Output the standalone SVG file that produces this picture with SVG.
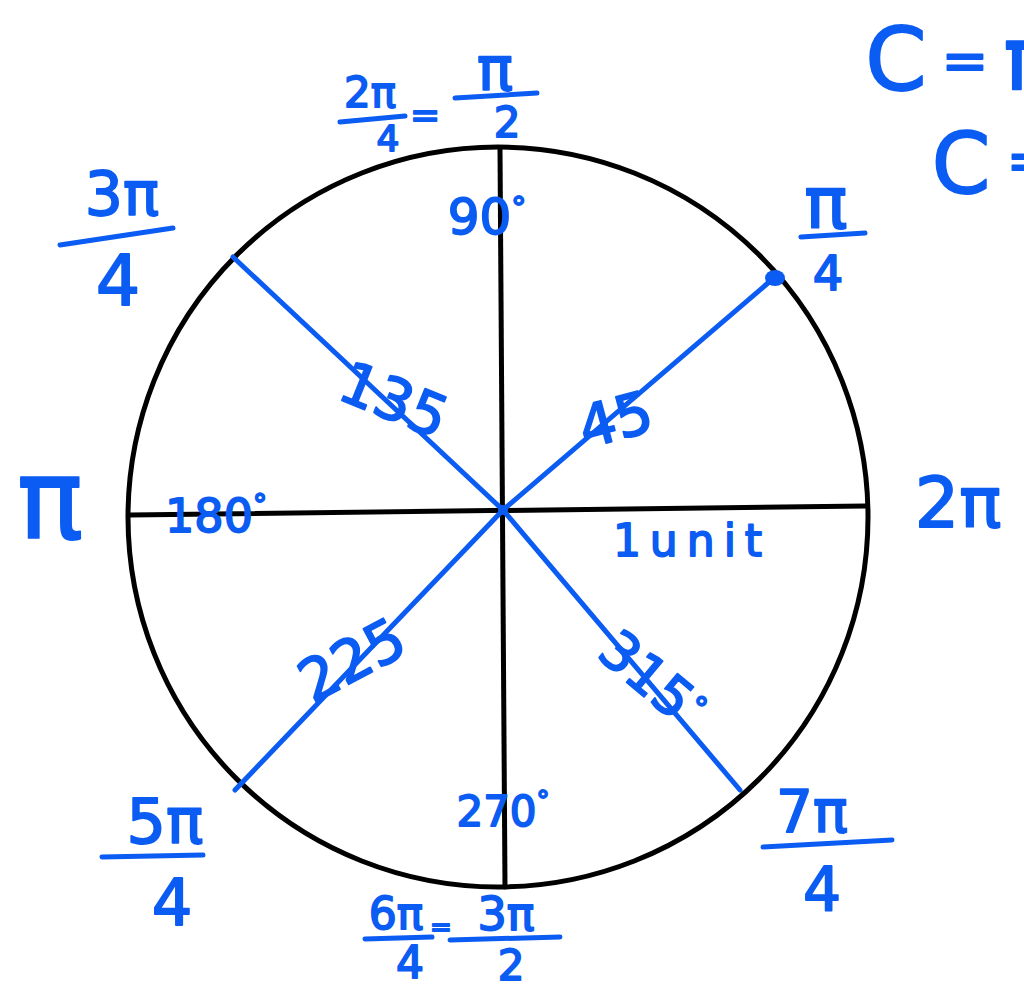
<svg xmlns="http://www.w3.org/2000/svg" width="1024" height="987" viewBox="0 0 1024 987">
<style>
.ink{fill:none;stroke:#0b5cf2;stroke-width:5;stroke-linecap:round;stroke-linejoin:round}
.blk{fill:none;stroke:#000;stroke-width:5;stroke-linecap:round}
.t{font-family:"DejaVu Sans","Liberation Sans",sans-serif;fill:#0b5cf2;stroke:#0b5cf2;stroke-width:1.8;stroke-linejoin:round;text-anchor:middle}
</style>
<rect width="1024" height="987" fill="#fff"/>
<g id="circle">
<circle cx="498" cy="517" r="370" class="blk"/>
<line x1="130" y1="515" x2="866" y2="506" class="blk"/>
<line x1="500" y1="149" x2="505" y2="887" class="blk"/>
</g>
<g id="connectors">
<polyline points="233,257 503,510 740,790" class="ink"/>
<polyline points="235,790 503,510 775,277" class="ink"/>
<ellipse cx="775" cy="278" rx="10" ry="8" fill="#0b5cf2"/>
<circle cx="503" cy="510" r="5" fill="#0b5cf2"/>
</g>
<g id="label-top">
<text class="t" x="370" y="107" font-size="42">2π</text>
<line x1="340" y1="122" x2="405" y2="116" class="ink"/>
<text class="t" x="388" y="151" font-size="36">4</text>
<text class="t" x="425" y="127" font-size="36">=</text>
<text class="t" x="495" y="90" font-size="60">π</text>
<line x1="455" y1="98" x2="537" y2="93" class="ink"/>
<text class="t" x="507" y="137" font-size="42">2</text>
</g>
<g id="label-90"><text class="t" x="487" y="234" font-size="50">90<tspan font-size="30" dy="-16">°</tspan></text></g>
<g id="label-3pi4">
<text class="t" x="122" y="215" font-size="60">3π</text>
<line x1="60" y1="245" x2="173" y2="228" class="ink"/>
<text class="t" x="118" y="305" font-size="70">4</text>
</g>
<g id="label-pi"><text class="t" x="50" y="538" font-size="110">π</text></g>
<g id="label-180"><text class="t" x="216" y="532" font-size="46">180<tspan font-size="28" dy="-18">°</tspan></text></g>
<g id="label-135"><text class="t" x="394" y="420" font-size="58" transform="rotate(22 394 400)">135</text></g>
<g id="label-45"><text class="t" x="615" y="440" font-size="58" transform="rotate(-15 615 418)">45</text></g>
<g id="label-unit"><text class="t" x="692" y="556" font-size="44" letter-spacing="9">1unit</text></g>
<g id="label-2pi"><text class="t" x="958" y="527" font-size="70">2π</text></g>
<g id="label-pi4">
<text class="t" x="826" y="228" font-size="72">π</text>
<line x1="801" y1="237" x2="865" y2="233" class="ink"/>
<text class="t" x="828" y="290" font-size="48">4</text>
</g>
<g id="label-5pi4">
<text class="t" x="165" y="843" font-size="62">5π</text>
<line x1="102" y1="857" x2="203" y2="855" class="ink"/>
<text class="t" x="172" y="925" font-size="64">4</text>
</g>
<g id="label-225"><text class="t" x="352" y="680" font-size="58" transform="rotate(-28 352 660)">225</text></g>
<g id="label-315"><text class="t" x="652" y="698" font-size="54" transform="rotate(40 652 680)">315<tspan font-size="30" dy="-16">°</tspan></text></g>
<g id="label-270"><text class="t" x="503" y="826" font-size="42">270<tspan font-size="26" dy="-16">°</tspan></text></g>
<g id="label-7pi4">
<text class="t" x="812" y="832" font-size="58">7π</text>
<line x1="763" y1="847" x2="892" y2="840" class="ink"/>
<text class="t" x="822" y="910" font-size="60">4</text>
</g>
<g id="label-bottom">
<text class="t" x="396" y="929" font-size="44">6π</text>
<line x1="365" y1="939" x2="432" y2="937" class="ink"/>
<text class="t" x="410" y="978" font-size="44">4</text>
<text class="t" x="441" y="936" font-size="26">=</text>
<text class="t" x="506" y="930" font-size="46">3π</text>
<line x1="450" y1="940" x2="560" y2="937" class="ink"/>
<text class="t" x="511" y="980" font-size="42">2</text>
</g>
<g id="label-circumference">
<text class="t" x="896" y="90" font-size="88">C</text>
<text class="t" x="965" y="80" font-size="56">=</text>
<text class="t" x="1030" y="90" font-size="88">π</text>
<text class="t" x="961" y="193" font-size="84">C</text>
<text class="t" x="1030" y="180" font-size="56">=</text>
</g>
</svg>
